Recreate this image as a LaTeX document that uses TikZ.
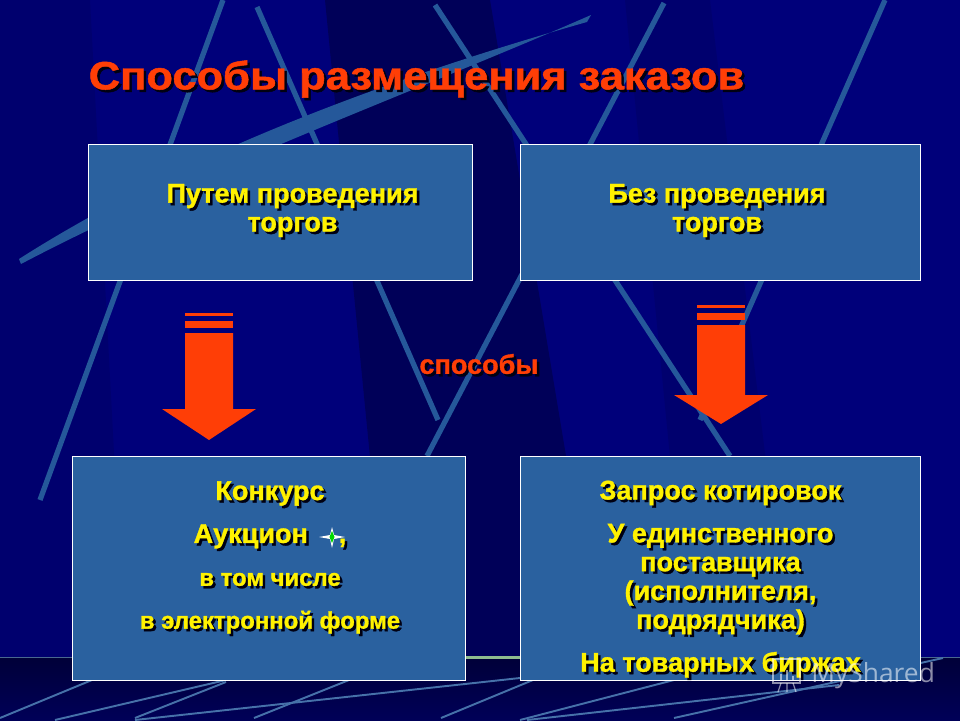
\documentclass[tikz,border=0pt]{standalone}
\usepackage{fontspec}
\setmainfont{Liberation Sans}[BoldFeatures={FakeBold=1.2}]
\newfontfamily\markfont{Open Sans}
\definecolor{navy}{HTML}{00007A}
\definecolor{deepnavy}{HTML}{00006E}
\definecolor{midnight}{HTML}{000058}
\definecolor{floortop}{HTML}{000038}
\definecolor{raycol}{HTML}{25589A}
\definecolor{boxblue}{HTML}{2A619F}
\definecolor{arrowred}{HTML}{FF3E06}
\newcommand{\smallsz}{\fontsize{13.6}{16.4}\selectfont}
\tikzset{
  wide ray/.style={draw=raycol,line width=3pt},
  thin ray/.style={draw=raycol!85!white,line width=1.1pt},
  slide box/.style={draw=white,fill=boxblue,line width=.5pt},
  mark line/.style={draw=white,opacity=.55,line width=.7pt},
  label font/.style={font=\bfseries\fontsize{15.4}{16.4}\selectfont,align=center},
  title font/.style={font=\bfseries\fontsize{22.5}{25}\selectfont,align=center},
}
% text with a hard shadow: name, style, position, text
\newcommand{\shtext}[4]{
  \node[#2,text=black!85!navy] (#1s) at ([shift={(2.5,2.5)}]#3) {#4};
  \node[#2] (#1) at (#3) {#4};
}
\begin{document}
\begin{tikzpicture}[x=.02cm,y=-.02cm]
\useasboundingbox (0,0) rectangle (960,720);
\fill[navy] (0,0) rectangle (960,720);

% background
\fill[deepnavy] (0,0) -- (90,0) -- (125,660) -- (0,660) -- cycle;
\fill[midnight] (325,0) -- (490,0) -- (540,300) -- (600,660) -- (390,660) -- cycle;
\fill[deepnavy] (625,0) -- (710,0) -- (790,660) -- (690,660) -- cycle;
\draw[wide ray] (223,0) -- (40,500);
\draw[wide ray] (257,7) -- (438,420);
\draw[wide ray] (435,5) -- (730,456);
\draw[wide ray] (664,3) -- (427,456);
\draw[wide ray] (885,0) -- (700,420);
\fill[raycol] (591,15) .. controls (420,90) and (200,170) .. (21,264) -- (19,259) .. controls (190,150) and (400,75) .. (587,22) -- cycle;

\shade[top color=floortop,bottom color=midnight] (0,657) rectangle (960,720);
\draw[draw=raycol!60!gray,line width=1pt] (0,657.5) -- (72,657.5);
\draw[draw=green!25!gray!70!white,line width=1.2pt] (465,657.5) -- (520,657.5);
\draw[draw=raycol!60!gray,line width=1pt] (920,657.5) -- (960,657.5);
\draw[thin ray] (92,680) -- (0,718);
\draw[thin ray] (226,680) -- (55,720);
\draw[thin ray] (226,682) -- (135,718);
\draw[thin ray] (349,680) -- (254,718);
\draw[thin ray] (135,720) -- (520,678);
\draw[thin ray] (533,680) -- (441,718);
\draw[thin ray] (674,680) -- (520,720);
\draw[thin ray] (674,718) -- (943,658);
\draw[thin ray] (527,720) -- (839,685);

% boxes
\node[slide box,minimum width=384*.02cm,minimum height=136*.02cm] (B1) at (280,212) {};
\node[slide box,minimum width=400*.02cm,minimum height=136*.02cm] (B2) at (720,212) {};
\node[slide box,minimum width=393*.02cm,minimum height=224*.02cm] (B3) at (268.5,568) {};
\node[slide box,minimum width=400*.02cm,minimum height=224*.02cm] (B4) at (720,568) {};

% arrows
\foreach \x/\y/\h/\t in {209/313/409/440,721/305/395/424}{
  \fill[arrowred] (\x-24,\y) rectangle (\x+24,\y+3);
  \fill[arrowred] (\x-24,\y+8) rectangle (\x+24,\y+15);
  \fill[arrowred] (\x-24,\y+20) -- (\x+24,\y+20) -- (\x+24,\h) -- (\x+47,\h)
    -- (\x,\t) -- (\x-47,\h) -- (\x-24,\h) -- (\x-24,\y+20) -- cycle;
}

% texts
\shtext{Tt}{title font,text=arrowred,xscale=1.1}{416.5,79}{Способы размещения заказов}
\shtext{T1}{label font,text=yellow}{292.5,210.5}{Путем проведения\\торгов}
\shtext{T2}{label font,text=yellow}{717,210.5}{Без проведения\\торгов}
\shtext{Sp}{label font,text=arrowred}{479,364}{способы}
\shtext{T3}{label font,text=yellow}{270,557.5}{Конкурс\\[8pt]Аукцион\hspace{17.6pt},\\[8pt]\smallsz в том числе\\[8pt]\smallsz в электронной форме}
\shtext{T4}{label font,text=yellow}{720.5,579}{Запрос котировок\\[8pt]У единственного\\поставщика\\(исполнителя,\\подрядчика)\\[8pt]На товарных биржах}

% star
\fill[white] (332,527) -- (334,535) -- (345,537) -- (334,539) -- (332,548) -- (330,539) -- (319,537) -- (330,535) -- cycle;
\fill[green!85!black] (332,531) -- (334.5,537) -- (332,543) -- (329.5,537) -- cycle;

% watermark
\node[text=white,opacity=.55,font=\markfont\fontsize{15}{16}\selectfont,anchor=west,inner sep=0pt] (W) at (811,676) {MyShared};
\draw[mark line] (773,659) rectangle (800,683);
\draw[mark line] (781,683) -- (778,692) (787,683) -- (787,692) (793,683) -- (796,692);
\draw[mark line,line width=1.5pt] (781,680) -- (781,674) (787,680) -- (787,670) (793,680) -- (793,676);
\end{tikzpicture}
\end{document}
